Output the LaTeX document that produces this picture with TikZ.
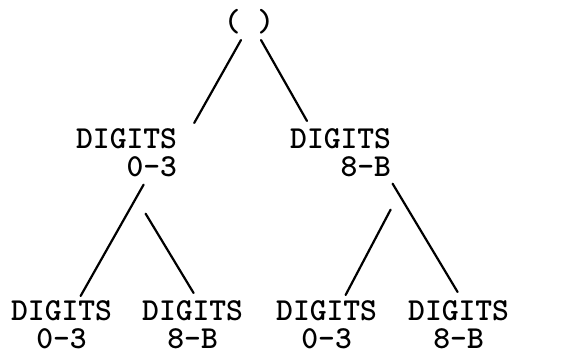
\documentclass[tikz,border=0pt]{standalone}
\usepackage{tikz}
\usetikzlibrary{calc,positioning}

\newcommand{\treefont}{\ttfamily\bfseries\fontsize{32}{28}\selectfont}
\tikzset{
	digits/.style={font=\treefont,inner sep=0pt,anchor=north west},
	branch/.style={line width=2.2pt,line cap=round}
}

\begin{document}
\begin{tikzpicture}[x=1pt,y=-1pt]
		\useasboundingbox (0,0) rectangle (582,351);
		% nodes
		\node[font=\treefont,inner sep=0pt,anchor=base] (root) at (249,31) {( )};
		\node[digits,align=right] (midL) at (76,128) {DIGITS\\0-3};
		\node[digits,align=right] (midR) at (290,128) {DIGITS\\8-B};
		\node[digits,align=center] (leafA) at (11,300) {DIGITS\\0-3};
		\node[digits,align=center] (leafB) at (142,300) {DIGITS\\8-B};
		\node[digits,align=center] (leafC) at (276,300) {DIGITS\\0-3};
		\node[digits,align=center] (leafD) at (408,300) {DIGITS\\8-B};
		% branches
		\draw[branch] ($(root.base)+(-8,9)$) -- ($(midL.north east)+(17,-5)$);
		\draw[branch] ($(root.base)+(12,9)$) -- ($(midR.north west)+(17,-7)$);
		\draw[branch] ($(midL.south)+(17,8)$) -- ($(leafA.north)+(19,-4)$);
		\draw[branch] ($(midL.south)+(19,37)$) -- ($(leafB.north)+(1,-7)$);
		\draw[branch] ($(midR.south)+(50,33)$) -- ($(leafC.north)+(19,-5)$);
		\draw[branch] ($(midR.south)+(52,7)$) -- ($(leafD.north)+(-1,-8)$);
\end{tikzpicture}
\end{document}
